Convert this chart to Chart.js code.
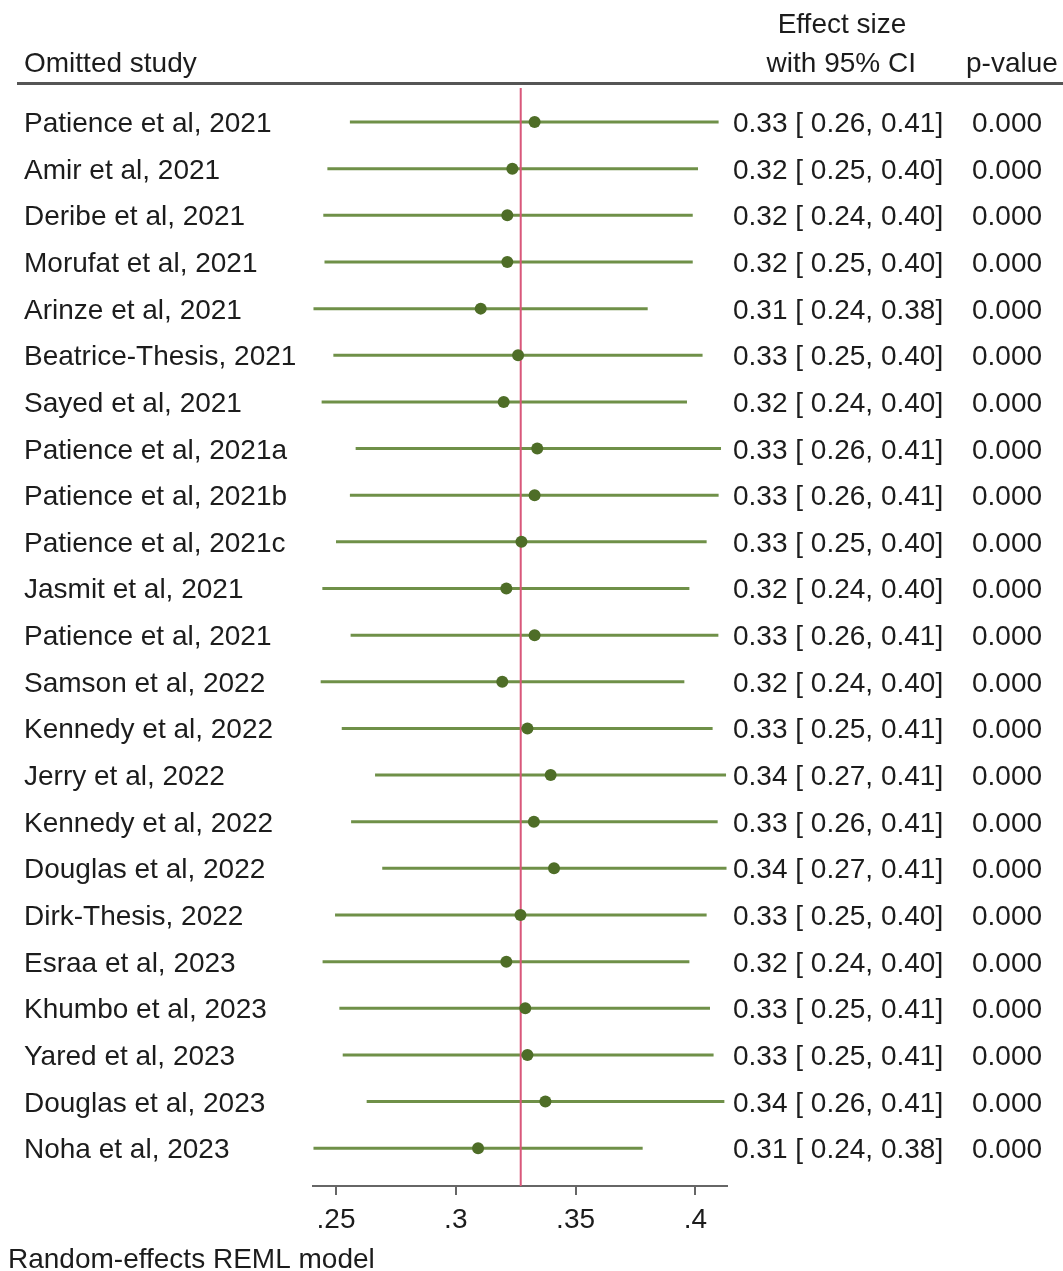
<!DOCTYPE html>
<html>
<head>
<meta charset="utf-8">
<title>Leave-one-out meta-analysis</title>
<script src="https://cdn.jsdelivr.net/npm/chart.js@4.4.1/dist/chart.umd.min.js"></script>
<style>
  html, body { margin: 0; padding: 0; background: #ffffff; }
  canvas { display: block; }
</style>
</head>
<body>
<canvas id="forest" width="1063" height="1271"></canvas>
<script>
// Omitted study for each leave-one-out re-estimate
const studies = [
  'Patience et al, 2021', 'Amir et al, 2021', 'Deribe et al, 2021', 'Morufat et al, 2021',
  'Arinze et al, 2021', 'Beatrice-Thesis, 2021', 'Sayed et al, 2021', 'Patience et al, 2021a',
  'Patience et al, 2021b', 'Patience et al, 2021c', 'Jasmit et al, 2021', 'Patience et al, 2021',
  'Samson et al, 2022', 'Kennedy et al, 2022', 'Jerry et al, 2022', 'Kennedy et al, 2022',
  'Douglas et al, 2022', 'Dirk-Thesis, 2022', 'Esraa et al, 2023', 'Khumbo et al, 2023',
  'Yared et al, 2023', 'Douglas et al, 2023', 'Noha et al, 2023'
];

// Pooled effect size with that study left out
const effect = [
  0.3329, 0.3236, 0.3215, 0.3215, 0.3104, 0.3260, 0.3200, 0.3340,
  0.3329, 0.3274, 0.3211, 0.3329, 0.3194, 0.3299, 0.3396, 0.3326,
  0.3410, 0.3270, 0.3211, 0.3290, 0.3299, 0.3374, 0.3093
];

// Lower and upper bounds of the 95% confidence interval
const ciLow = [
  0.2558, 0.2464, 0.2447, 0.2452, 0.2406, 0.2489, 0.2440, 0.2582,
  0.2558, 0.2500, 0.2443, 0.2561, 0.2436, 0.2524, 0.2663, 0.2563,
  0.2693, 0.2496, 0.2444, 0.2514, 0.2528, 0.2628, 0.2406
];
const ciHigh = [
  0.4097, 0.4011, 0.3989, 0.3989, 0.3801, 0.4030, 0.3965, 0.4107,
  0.4097, 0.4047, 0.3975, 0.4096, 0.3954, 0.4072, 0.4128, 0.4093,
  0.4130, 0.4047, 0.3975, 0.4061, 0.4076, 0.4121, 0.3780
];

// p-values of each re-estimate
const pValues = [
  0.000, 0.000, 0.000, 0.000, 0.000, 0.000, 0.000, 0.000,
  0.000, 0.000, 0.000, 0.000, 0.000, 0.000, 0.000, 0.000,
  0.000, 0.000, 0.000, 0.000, 0.000, 0.000, 0.000
];

// Overall pooled estimate (reference line)
const pooledEffect = 0.3271;

// x-axis ticks
const xTicks = [0.25, 0.30, 0.35, 0.40];
const xTickLabels = ['.25', '.3', '.35', '.4'];

const FONT_FAMILY = "'Liberation Sans', Arial, Helvetica, sans-serif";
const FONT_SIZE = 28;
const FONT = FONT_SIZE + 'px ' + FONT_FAMILY;
const TEXT_COLOR = '#1c1c1c';
const LINE_GREEN = '#6f9048';
const DOT_GREEN = '#4e6d27';
const REF_RED = '#d9577a';

const rows = studies.map((_, i) => i);

// One short horizontal segment per confidence interval
const ciDatasets = rows.map(i => ({
  type: 'line',
  data: [{ x: ciLow[i], y: i }, { x: ciHigh[i], y: i }],
  borderColor: LINE_GREEN,
  borderWidth: 3,
  pointRadius: 0,
  fill: false,
  order: 3
}));

const refLine = {
  type: 'line',
  data: [{ x: pooledEffect, y: -0.73 }, { x: pooledEffect, y: 22.81 }],
  borderColor: REF_RED,
  borderWidth: 2,
  pointRadius: 0,
  fill: false,
  order: 2
};

const points = {
  type: 'scatter',
  data: rows.map(i => ({ x: effect[i], y: i })),
  backgroundColor: DOT_GREEN,
  borderWidth: 0,
  pointRadius: 6,
  order: 1
};

const fmtCI = i =>
  `${effect[i].toFixed(2)} [ ${ciLow[i].toFixed(2)}, ${ciHigh[i].toFixed(2)}]`;

// Text columns, header and footnote
const forestText = {
  id: 'forestText',
  afterDraw(chart) {
    const ctx = chart.ctx;
    const yScale = chart.scales.y;
    ctx.save();
    ctx.fillStyle = TEXT_COLOR;
    ctx.font = FONT;
    ctx.textBaseline = 'alphabetic';

    // header
    ctx.textAlign = 'left';
    ctx.fillText('Omitted study', 24, 72);
    ctx.textAlign = 'center';
    ctx.fillText('Effect size', 842, 33);
    ctx.textAlign = 'right';
    ctx.fillText('with 95% CI', 916, 72);
    ctx.textAlign = 'left';
    ctx.fillText('p-value', 966, 72);

    ctx.strokeStyle = '#555555';
    ctx.lineWidth = 3;
    ctx.beginPath();
    ctx.moveTo(17, 83.5);
    ctx.lineTo(1063, 83.5);
    ctx.stroke();

    // rows
    rows.forEach(i => {
      const y = yScale.getPixelForValue(i) + 10;
      ctx.textAlign = 'left';
      ctx.fillText(studies[i], 24, y);
      ctx.fillText(fmtCI(i), 733, y);
      ctx.fillText(pValues[i].toFixed(3), 972, y);
    });

    // footnote
    ctx.fillText('Random-effects REML model', 8, 1268);
    ctx.restore();
  }
};

new Chart(document.getElementById('forest'), {
  data: { datasets: [...ciDatasets, refLine, points] },
  options: {
    responsive: false,
    animation: false,
    events: [],
    layout: { padding: { left: 313, right: 336, top: 88, bottom: 0 } },
    plugins: { legend: { display: false }, tooltip: { enabled: false } },
    scales: {
      x: {
        type: 'linear',
        min: 0.2404,
        max: 0.4132,
        afterFit: s => { s.height = 85; },
        afterBuildTicks: s => { s.ticks = xTicks.map(v => ({ value: v })); },
        border: { display: true, color: '#666666', width: 2 },
        grid: { drawOnChartArea: false, drawTicks: true, tickLength: 9, color: '#666666', lineWidth: 2 },
        ticks: {
          padding: 8,
          color: TEXT_COLOR,
          font: { family: FONT_FAMILY, size: FONT_SIZE },
          maxRotation: 0,
          autoSkip: false,
          callback: (v) => xTickLabels[xTicks.indexOf(v)] ?? ''
        }
      },
      y: {
        type: 'linear',
        display: false,
        reverse: true,
        min: -0.73,
        max: 22.81
      }
    }
  },
  plugins: [forestText]
});
</script>
</body>
</html>
